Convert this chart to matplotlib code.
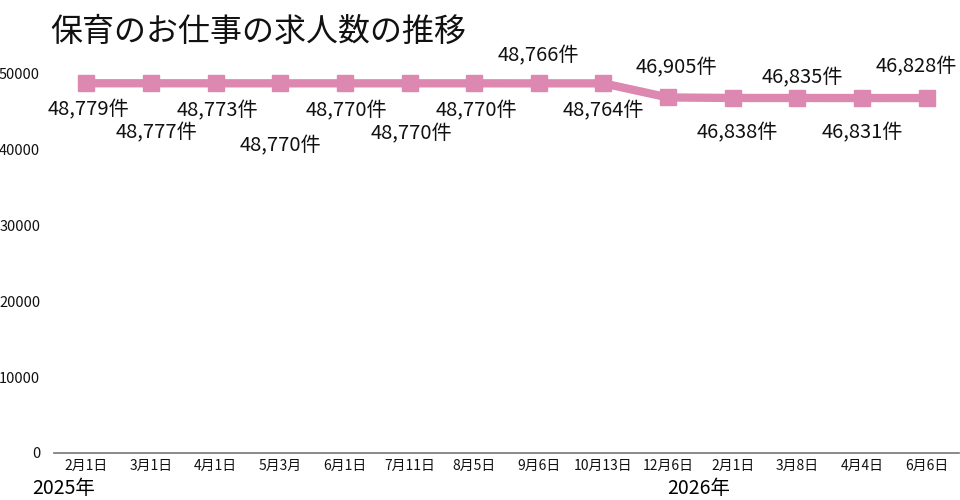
import matplotlib
matplotlib.use('Agg')
import matplotlib.pyplot as plt

plt.rcParams['font.family'] = ['Noto Sans CJK JP', 'DejaVu Sans']

# データ
dates = ['2月1日', '3月1日', '4月1日', '5月3月', '6月1日', '7月11日', '8月5日',
         '9月6日', '10月13日', '12月6日', '2月1日', '3月8日', '4月4日', '6月6日']
counts = [48779, 48777, 48773, 48770, 48770, 48770, 48770,
          48766, 48764, 46905, 46838, 46835, 46831, 46828]
# ラベルの位置オフセット（ピクセル）
label_dy = [-27, -50, -27, -62, -27, -50, -27, 28, -27, 30, -35, 20, -35, 31]
label_dx = [2, 6, 2, 0, 2, 2, 2, 0, 0, 8, 5, 5, 0, -10]

fig = plt.figure(figsize=(9.6, 5), dpi=100)
ax = fig.add_axes([54 / 960, 47 / 500, 905 / 960, 379 / 500])

x = list(range(len(dates)))
ax.plot(x, counts, color='#DD88B1', linewidth=6, marker='s', markersize=12,
        solid_joinstyle='miter')

for i, (c, dx, dy) in enumerate(zip(counts, label_dx, label_dy)):
    ax.annotate(f'{c:,}件', (i, c), xytext=(dx, dy), textcoords='offset pixels',
                ha='center', va='center', fontsize=14.5, color='#111111')

ax.set_xlim(-0.5, len(dates) - 0.5)
ax.set_ylim(0, 50000)
ax.set_yticks([0, 10000, 20000, 30000, 40000, 50000])
ax.set_yticklabels(['0', '10000', '20000', '30000', '40000', '50000'])
ax.set_xticks(x)
ax.set_xticklabels(dates)
ax.tick_params(axis='both', length=0, colors='#111111')
ax.tick_params(axis='y', pad=10, labelsize=10.5)
ax.tick_params(axis='x', pad=4, labelsize=10)

for s in ['top', 'right', 'left']:
    ax.spines[s].set_visible(False)
ax.spines['bottom'].set_color('#777777')
ax.spines['bottom'].set_linewidth(1.2)

fig.text(50 / 960, 1 - 32 / 500, '保育のお仕事の求人数の推移', fontsize=23,
         va='center', ha='left', color='#111111')
fig.text(32 / 960, 1 - 489 / 500, '2025年', fontsize=14, va='center', ha='left')
fig.text(667 / 960, 1 - 489 / 500, '2026年', fontsize=14, va='center', ha='left')

fig.savefig('out.png', dpi=100)
